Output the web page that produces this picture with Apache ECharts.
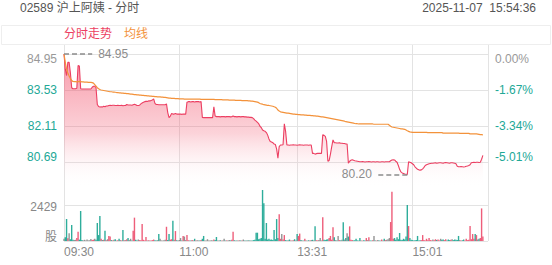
<!DOCTYPE html>
<html><head><meta charset="utf-8">
<script src="https://cdn.jsdelivr.net/npm/echarts@6/dist/echarts.min.js"></script>
<style>html,body{margin:0;padding:0;background:#fff}#c{width:552px;height:265px}</style>
</head><body><div id="c"></div>
<script>
const stockTitle = '02589 沪上阿姨 - 分时';
const stampText = '2025-11-07  15:54:36';
const legendNames = ['分时走势', '均线'];
const prevClose = 84.95;
const priceTicks = [79.27, 80.69, 82.11, 83.53, 84.95];
const volumeTicks = [0, 2429, 4858];
const volumeUnit = '股';
const timeTickLabels = ['09:30', '11:00', '13:31', '15:01'];

const prices = [
84.95,84.35,84.10,84.62,84.62,84.20,83.62,83.58,83.58,83.58,
83.60,84.50,84.48,83.58,83.57,83.57,83.57,83.57,83.57,83.57,
83.57,83.57,83.64,83.68,83.68,83.62,82.96,82.88,82.86,82.87,
82.86,82.89,82.87,82.90,82.90,82.92,82.93,82.92,82.93,82.93,
82.92,82.92,82.93,82.92,82.92,82.93,82.91,82.92,82.92,82.96,
82.94,82.94,82.94,82.93,82.95,82.97,82.95,82.92,82.92,82.93,
82.98,83.02,83.05,83.07,83.08,83.08,83.10,83.10,83.12,83.14,
83.18,83.00,82.96,82.96,82.95,82.95,82.95,82.95,82.95,82.95,
82.98,82.64,82.44,82.50,82.60,82.58,82.58,82.60,82.58,82.58,
82.58,82.58,82.57,82.58,82.58,82.58,83.05,83.07,83.07,83.06,
83.07,83.07,83.06,83.07,83.07,83.07,83.06,83.07,82.45,82.44,
82.44,82.44,82.44,82.44,82.44,82.44,82.44,82.87,82.50,82.48,
82.48,82.48,82.47,82.48,82.48,82.48,82.47,82.48,82.48,82.48,
82.47,82.48,82.50,82.48,82.48,82.47,82.48,82.48,82.47,82.48,
82.48,82.47,82.47,82.46,82.46,82.45,82.45,82.44,82.40,82.34,
82.30,82.25,82.20,82.10,82.05,81.95,81.92,81.90,81.85,81.75,
81.60,81.50,81.48,81.45,81.40,81.38,81.20,80.84,81.30,81.36,
81.36,81.37,82.20,81.90,81.36,81.36,81.35,81.36,81.36,81.37,
81.36,81.36,81.35,81.36,81.37,81.36,81.36,81.35,81.36,81.36,
81.36,81.35,81.36,81.36,81.03,81.03,81.00,81.02,81.03,81.03,
81.03,81.03,81.76,81.74,81.70,81.50,80.72,80.75,81.00,81.30,
81.56,81.45,81.45,81.44,81.44,81.45,81.43,81.43,81.42,81.42,
81.40,81.40,80.64,80.72,80.76,80.78,80.76,80.74,80.73,80.72,
80.71,80.70,80.70,80.71,80.70,80.69,80.70,80.70,80.71,80.70,
80.69,80.70,80.70,80.69,80.70,80.70,80.69,80.69,80.70,80.70,
80.69,80.70,80.70,80.70,80.70,80.74,80.77,80.78,80.77,80.72,
80.68,80.55,80.40,80.30,80.26,80.24,80.22,80.21,80.20,80.70,
80.68,80.66,80.62,80.58,80.50,80.45,80.40,80.38,80.37,80.38,
80.42,80.48,80.55,80.58,80.60,80.62,80.63,80.64,80.64,80.65,
80.66,80.64,80.65,80.66,80.66,80.65,80.64,80.66,80.67,80.66,
80.65,80.64,80.66,80.66,80.65,80.64,80.62,80.52,80.50,80.50,
80.51,80.50,80.49,80.50,80.52,80.53,80.55,80.58,80.66,80.67,
80.68,80.67,80.68,80.68,80.67,80.68,80.80,80.95
];

const avgPrices = [
84.95,84.62,84.35,84.20,84.08,83.98,83.90,
83.87,83.86,83.86,83.85,83.86,83.87,83.86,83.85,83.85,83.84,83.84,83.84,83.83,83.83,
83.83,83.82,83.80,83.74,83.68,83.62,83.58,
83.55,83.53,83.52,83.51,83.50,83.49,83.48,83.47,83.46,
83.46,83.45,83.45,83.44,83.43,83.43,83.42,83.42,83.41,83.41,83.40,83.40,83.39,83.39,83.38,83.37,83.37,83.36,
83.35,83.35,83.34,83.34,83.33,83.33,83.32,83.32,83.31,83.31,83.30,83.30,83.29,
83.29,83.28,83.28,83.27,83.27,83.26,83.26,83.26,83.25,83.25,83.24,83.24,83.23,
83.22,83.21,83.21,83.20,83.20,83.20,83.19,83.19,83.19,83.18,83.18,83.18,83.18,83.17,83.17,83.17,
83.17,83.17,83.17,83.17,83.17,83.17,83.17,83.17,83.17,83.17,
83.16,83.16,83.16,83.16,83.16,83.16,83.16,83.16,83.16,83.16,
83.16,
83.15,83.15,83.15,83.15,83.15,83.15,
83.14,83.14,83.14,83.14,83.14,
83.13,83.13,83.13,83.13,83.13,
83.12,83.12,83.12,83.12,83.12,
83.11,83.11,83.11,83.11,83.11,
83.10,83.10,83.09,83.09,83.08,83.07,83.06,83.05,83.03,83.00,
82.98,82.97,82.95,82.94,82.93,82.92,82.92,82.91,82.90,82.89,82.87,82.85,82.81,82.74,82.70,82.67,
82.66,82.65,82.64,82.63,82.62,82.62,82.61,82.60,82.59,82.58,82.58,82.57,82.57,82.56,82.56,82.55,82.55,82.55,82.54,82.54,82.53,82.53,82.53,82.52,82.52,
82.51,82.51,82.50,82.50,82.49,82.48,82.47,82.47,82.46,82.45,82.44,82.43,82.42,82.41,
82.40,82.39,82.38,82.37,82.36,82.35,82.34,82.33,82.32,82.31,82.30,82.28,82.27,82.26,82.25,82.24,82.23,82.22,82.21,82.20,82.20,
82.19,82.19,82.19,82.19,82.19,82.19,82.19,82.19,82.19,82.19,82.19,82.19,
82.18,82.18,82.18,82.18,82.18,82.18,82.18,82.18,82.18,82.18,82.18,82.18,
82.14,82.10,82.07,82.06,82.05,82.04,82.03,82.02,82.01,82.00,82.00,81.99,
81.98,81.95,81.92,81.90,81.88,81.87,81.86,
81.86,81.86,81.86,81.86,81.86,81.86,81.86,81.86,81.86,81.86,81.86,
81.85,81.85,81.85,81.85,81.85,81.85,81.85,81.85,81.85,81.85,81.85,81.85,
81.83,81.83,81.83,81.83,81.83,81.83,81.83,81.83,81.83,81.83,81.83,81.83,81.83,
81.82,81.82,81.82,81.82,81.82,81.82,81.82,81.82,
81.80,81.80,81.80,81.80,81.80,81.80,
81.79,81.78,81.77,81.77,81.76
];

const volumes = [
150,260,1485,180,520,120,1080,90,60,80,200,630,90,2025,60,40,80,30,100,40,
50,130,60,90,150,80,1215,400,1690,150,60,90,700,50,120,330,300,60,40,80,
120,30,50,150,60,40,740,50,60,120,200,60,150,40,700,1575,80,40,100,60,
50,1150,80,40,270,30,50,40,30,60,100,50,30,60,470,150,40,30,50,80,
960,60,470,90,120,1370,80,670,50,40,60,200,40,330,300,60,400,50,40,30,
60,40,150,30,50,40,30,60,150,340,40,30,120,40,30,50,40,100,60,270,
40,30,50,30,40,150,30,40,30,60,40,80,630,50,30,40,30,50,30,40,
100,30,40,30,50,30,40,30,60,80,560,560,120,150,200,3440,2540,150,1215,100,
150,80,100,60,740,120,1480,200,1800,150,470,100,400,60,40,50,100,40,30,50,
120,40,470,340,500,60,40,30,150,40,30,50,40,60,80,40,1000,50,40,60,
200,40,1600,80,60,100,120,200,340,80,925,250,60,40,340,60,40,80,1260,100,
200,520,300,990,80,60,40,50,150,40,30,200,40,30,50,40,200,60,250,40,
30,50,340,40,30,60,40,30,100,40,150,60,80,120,200,1280,3330,150,200,80,
250,120,540,80,60,150,100,300,2430,1010,200,80,60,40,50,60,340,40,50,60,
400,60,40,150,50,200,60,40,100,50,120,60,100,40,150,80,100,60,120,40,
100,60,80,120,60,100,80,60,340,60,40,50,100,40,150,60,80,1010,120,470,
150,470,400,100,150,200,2200,300
];

// minute categories of the HK session
const times = [];
(function () {
  const pad = n => (n < 10 ? '0' : '') + n;
  const add = (h1, m1, h2, m2) => {
    for (let t = h1 * 60 + m1; t <= h2 * 60 + m2; t++) times.push(pad(Math.floor(t / 60)) + ':' + pad(t % 60));
  };
  add(9, 30, 12, 0);
  add(13, 0, 16, 0);
})();

const gridIdx = timeTickLabels.map(t => times.indexOf(t)).concat([times.length - 1]);
const labelIdx = timeTickLabels.map(t => times.indexOf(t));

const TEAL = '#22a896', GREYTXT = '#999', RED = '#ec3f62', ORANGE = '#f3923b';
const FONT = "'Liberation Sans', 'Noto Sans CJK SC', sans-serif";
const near = (a, b) => Math.abs(a - b) < 1e-6;
const step = +(priceTicks[1] - priceTicks[0]).toFixed(2);

const maxP = Math.max(...prices), minP = Math.min(...prices);
const maxI = prices.indexOf(maxP), minI = prices.indexOf(minP);
const extremeValues = [maxP, minP];

function priceLabel(v, txt) {
  if (near(v, priceTicks[0])) return '';
  if (near(v, priceTicks[4])) return '{top|' + txt + '}';
  if (near(v, priceTicks[1])) return '{bot|' + txt + '}';
  return '{mid|' + txt + '}';
}
const priceRich = {
  top: { color: GREYTXT, fontSize: 12, padding: [10, 0, 0, 0], fontFamily: FONT },
  bot: { color: TEAL, fontSize: 12, padding: [0, 0, 10, 0], fontFamily: FONT },
  mid: { color: TEAL, fontSize: 12, fontFamily: FONT }
};

const chart = echarts.init(document.getElementById('c'), null, { renderer: 'svg' });
chart.setOption({
  animation: false,
  textStyle: { fontFamily: FONT },
  title: [
    { text: stockTitle, left: 20, top: 2, padding: 0, textStyle: { fontSize: 12, fontWeight: 'normal', color: '#555', fontFamily: FONT } },
    { text: stampText, right: 16, top: 2, padding: 0, textStyle: { fontSize: 12, fontWeight: 'normal', color: '#555', fontFamily: FONT } }
  ],
  graphic: [
    { type: 'rect', shape: { x: 1.5, y: 25.5, width: 549, height: 19 }, style: { fill: 'none', stroke: '#eeeeee', lineWidth: 1 }, silent: true, z: -1 }
  ],
  legend: {
    left: 59, top: 28, padding: 0, itemWidth: 0, itemHeight: 0, itemGap: 7, icon: 'none',
    selectedMode: false,
    data: [
      { name: legendNames[0], textStyle: { color: RED, fontSize: 12 } },
      { name: legendNames[1], textStyle: { color: ORANGE, fontSize: 12 } }
    ]
  },
  grid: [
    { left: 64, right: 64, top: 54, height: 144 },
    { left: 64, right: 64, top: 169, height: 72 },
    { left: 64, right: 64, top: 45, height: 196 }
  ],
  xAxis: [
    { type: 'category', gridIndex: 0, data: times, boundaryGap: false, axisLine: { show: false }, axisTick: { show: false }, axisLabel: { show: false }, splitLine: { show: false } },
    { type: 'category', gridIndex: 1, data: times, boundaryGap: false, axisLine: { show: false }, axisTick: { show: false }, splitLine: { show: false },
      axisLabel: { show: true, color: '#888', fontSize: 12, align: 'left', margin: 5, interval: (i) => labelIdx.indexOf(i) >= 0 } },
    { type: 'category', gridIndex: 2, data: times, boundaryGap: false, axisLine: { show: false }, axisTick: { show: false }, axisLabel: { show: false },
      splitLine: { show: true, interval: (i) => gridIdx.indexOf(i) >= 0, lineStyle: { color: '#e3e3e3', width: 1 } } }
  ],
  yAxis: [
    { type: 'value', gridIndex: 0, min: priceTicks[0], max: priceTicks[4], interval: step, position: 'left',
      axisLine: { show: false }, axisTick: { show: false },
      splitLine: { show: true, showMinLine: false, lineStyle: { color: '#e3e3e3' } },
      axisLabel: { margin: 7, formatter: v => priceLabel(v, v.toFixed(2)), rich: priceRich } },
    { type: 'value', gridIndex: 0, min: priceTicks[0], max: priceTicks[4], interval: step, position: 'right',
      axisLine: { show: false }, axisTick: { show: false }, splitLine: { show: false },
      axisLabel: { margin: 7, formatter: v => priceLabel(v, ((v - prevClose) / prevClose * 100).toFixed(2) + '%'), rich: priceRich } },
    { type: 'value', gridIndex: 1, min: volumeTicks[0], max: volumeTicks[2], interval: volumeTicks[1] - volumeTicks[0],
      axisLine: { show: false }, axisTick: { show: false },
      splitLine: { show: true, showMaxLine: false, lineStyle: { color: '#e3e3e3' } },
      axisLabel: { margin: 7, showMaxLabel: false,
        formatter: v => near(v, volumeTicks[0]) ? '{bot|' + volumeUnit + '}' : (near(v, volumeTicks[1]) ? '{mid|' + v + '}' : ''),
        rich: { bot: { color: '#888', fontSize: 12, padding: [0, 0, 9, 0] }, mid: { color: '#888', fontSize: 12, padding: [3, 0, 0, 0] } } } },
    { type: 'value', gridIndex: 2, show: false }
  ],
  series: [
    { name: legendNames[0], type: 'line', xAxisIndex: 0, yAxisIndex: 0, data: prices, showSymbol: false, symbol: 'none',
      lineStyle: { color: RED, width: 1.1 }, itemStyle: { color: RED },
      areaStyle: { origin: 'start', color: new echarts.graphic.LinearGradient(0, 0, 0, 1, [
        { offset: 0, color: 'rgba(242,66,96,0.78)' },
        { offset: 0.55, color: 'rgba(242,80,105,0.36)' },
        { offset: 0.93, color: 'rgba(255,255,255,0)' }
      ]) },
      markLine: {
        silent: true, symbol: ['none', 'none'],
        lineStyle: { type: [5, 3], color: '#8c8c8c', width: 1.6 },
        label: { show: true, position: 'end', distance: 6, color: '#8c8c8c', fontSize: 12,
          formatter: p => extremeValues[p.dataIndex].toFixed(2) },
        data: [
          [{ coord: [times[maxI], maxP] }, { coord: [times[maxI + 22], maxP] }],
          [{ coord: [times[minI], minP] }, { coord: [times[minI - 23], minP] }]
        ]
      }
    },
    { name: legendNames[1], type: 'line', xAxisIndex: 0, yAxisIndex: 0, data: avgPrices, showSymbol: false, symbol: 'none',
      lineStyle: { color: ORANGE, width: 1.2 }, itemStyle: { color: ORANGE } },
    { name: '成交量', type: 'bar', xAxisIndex: 1, yAxisIndex: 2, data: volumes, barWidth: 1.4,
      itemStyle: { color: p => {
        const i = p.dataIndex; const d = i === 0 ? 0 : prices[i] - prices[i - 1];
        return d > 1e-9 ? 'rgba(236,72,104,0.88)' : (d < -1e-9 ? 'rgba(28,166,146,0.92)' : 'rgba(120,120,120,0.8)');
      } } }
  ]
});
</script></body></html>
